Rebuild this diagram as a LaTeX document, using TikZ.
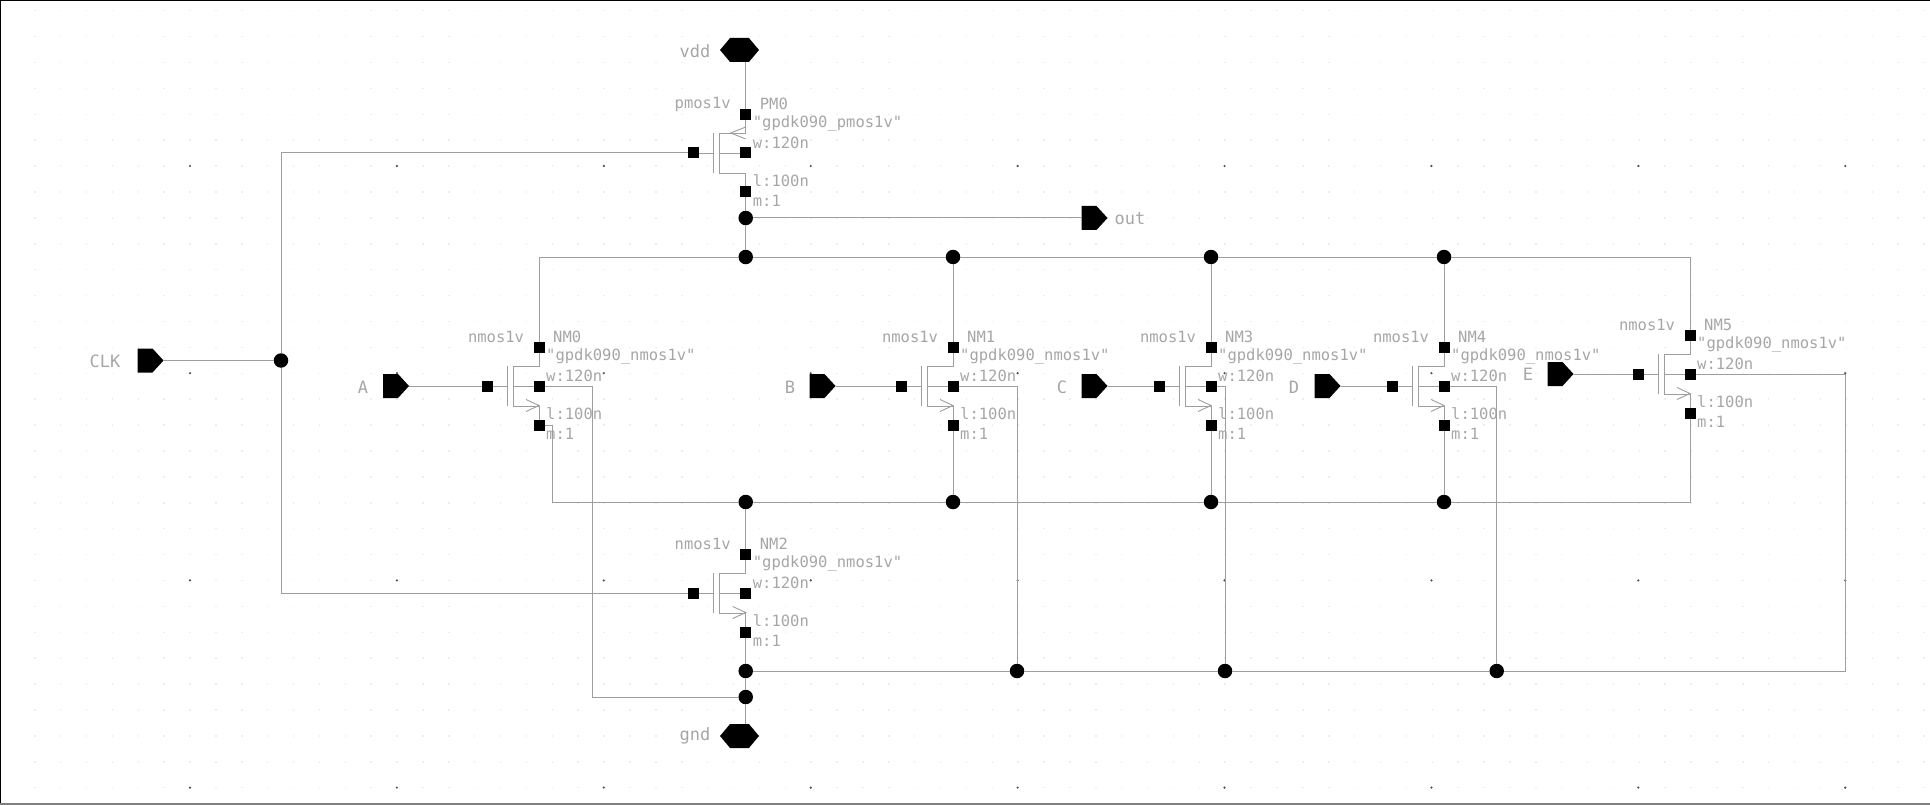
\documentclass[tikz,border=0pt]{standalone}
\usepackage{fontspec}
\setmonofont{DejaVu Sans Mono}
\usetikzlibrary{shapes.symbols}

\definecolor{wirecol}{gray}{0.62}
\definecolor{textcol}{gray}{0.65}

\tikzset{
    wire/.style={draw=wirecol,line width=1pt},
    symb/.style={draw=wirecol,line width=0.9pt},
    term/.style={fill=black,minimum size=11pt,inner sep=0pt,outer sep=0pt},
    junc/.style={circle,fill=black,minimum size=14.5pt,inner sep=0pt,outer sep=0pt},
    pinin/.style={signal,signal to=east,signal pointer angle=95,fill=black,minimum width=26pt,minimum height=24pt,inner sep=0pt,outer sep=0pt},
    pinio/.style={signal,signal to=east and west,signal pointer angle=100,fill=black,minimum width=39pt,minimum height=24pt,inner sep=0pt,outer sep=0pt},
    pinlab/.style={text=textcol,font=\ttfamily\fontsize{17}{18}\selectfont,inner sep=0pt},
    devlab/.style={text=textcol,font=\ttfamily\fontsize{15.5}{16}\selectfont,inner sep=0pt,anchor=west},
}

\newcommand{\arrown}{\draw[symb] (-13,13.5) -- (0,19.5) -- (-13,25.5);}
\newcommand{\arrowp}{\draw[symb] (0,-26) -- (-15,-20) -- (0,-14);}

% name, n or p, x, y
\newcommand{\mosfet}[4]{
    \begin{scope}[shift={(#3,#4)}]
        \node[term] (#1d) at (0,-38.5) {};
        \node[term] (#1g) at (-52,0) {};
        \node[term] (#1b) at (0,0) {};
        \node[term] (#1s) at (0,39) {};
        \draw[symb] (#1d) -- (0,-20) -- (-26,-20) -- (-26,20) -- (0,20) -- (#1s);
        \draw[symb] (-32,-20) -- (-32,20);
        \draw[symb] (#1g) -- (-32,0); \draw[symb] (-26,0) -- (#1b);
        \csname arrow#2\endcsname
        \node[devlab,anchor=center] (#1type) at (-43,-49) {#2mos1v};
        \node[devlab] (#1name) at (14,-49) {#1};
        \node[devlab] (#1model) at (7,-29.5) {"gpdk090\_#2mos1v"};
        \node[devlab] (#1w) at (7,-10) {w:120n};
        \node[devlab] (#1l) at (7,28) {l:100n};
        \node[devlab] (#1m) at (7,48) {m:1};
    \end{scope}
}

\begin{document}
\begin{tikzpicture}[x=1pt,y=-1pt]
    \useasboundingbox (0,0) rectangle (1930,805);

    % grid
    \foreach \row in {0,...,30}
        \draw[gray!14,line width=1.5pt,dash pattern=on 1.5pt off 24.38pt] (34,10.7+25.9*\row) -- (1925,10.7+25.9*\row);
    \foreach \col in {0,...,8}
        \foreach \row in {0,...,3}
            \fill[black!70] (190+206.9*\col,166+207.2*\row) circle (1.2pt);

    % frame
    \draw[black,line width=2pt] (0,805) -- (0,0) -- (1930,0);
    \draw[gray,line width=1.5pt] (0,804) -- (1930,804);

    % transistors
    \mosfet{PM0}{p}{745.7}{153}
    \mosfet{NM0}{n}{539}{386}
    \mosfet{NM1}{n}{953}{386}
    \mosfet{NM3}{n}{1211}{386}
    \mosfet{NM4}{n}{1444}{386}
    \mosfet{NM5}{n}{1690}{374}
    \mosfet{NM2}{n}{745.7}{593}

    % pins
    \node[pinio] (vdd) at (739.5,50) {};
    \node[pinio] (gnd) at (739.5,736) {};
    \node[pinin] (CLK) at (145,360.5) {};
    \node[pinin] (A) at (390.5,386) {};
    \node[pinin] (B) at (817,386) {};
    \node[pinin] (C) at (1089,386) {};
    \node[pinin] (D) at (1322,386) {};
    \node[pinin] (E) at (1555,374) {};
    \node[pinin] (out) at (1089,218) {};

    \node[pinlab] (vddlab) at (695,51) {vdd};
    \node[pinlab] (gndlab) at (695,736) {gnd};
    \node[pinlab] (CLKlab) at (105,361) {CLK};
    \node[pinlab] (Alab) at (363,387) {A};
    \node[pinlab] (Blab) at (790,387) {B};
    \node[pinlab] (Clab) at (1062,387) {C};
    \node[pinlab] (Dlab) at (1294,387) {D};
    \node[pinlab] (Elab) at (1528,374) {E};
    \node[pinlab] (outlab) at (1130,219) {out};

    % junctions
    \node[junc] (J) at (281,360.5) {};
    \node[junc] (Q) at (745.7,218) {};
    \node[junc] (T0) at (745.7,257) {};
    \node[junc] (T1) at (953,257) {};
    \node[junc] (T3) at (1211,257) {};
    \node[junc] (T4) at (1444,257) {};
    \node[junc] (B0) at (745.7,502) {};
    \node[junc] (B1) at (953,502) {};
    \node[junc] (B3) at (1211,502) {};
    \node[junc] (B4) at (1444,502) {};
    \node[junc] (G0) at (745.7,671) {};
    \node[junc] (Gb) at (745.7,697) {};
    \node[junc] (G1) at (1017,671) {};
    \node[junc] (G3) at (1225,671) {};
    \node[junc] (G4) at (1496.7,671) {};

    \coordinate (botleft) at (552,502);
    \coordinate (gndleft) at (592,697);
    \coordinate (gndright) at (1845,671);

    % clock and inputs
    \draw[wire] (CLK) -- (J);
    \draw[wire] (J) |- (PM0g); \draw[wire] (J) |- (NM2g);
    \draw[wire] (A) -- (NM0g); \draw[wire] (B) -- (NM1g); \draw[wire] (C) -- (NM3g);
    \draw[wire] (D) -- (NM4g); \draw[wire] (E) -- (NM5g);

    % pull up and output
    \draw[wire] (PM0d) -- (PM0d |- vdd.south);
    \draw[wire] (PM0s) -- (Q); \draw[wire] (Q) -- (T0); \draw[wire] (Q) -- (out);

    % top rail
    \draw[wire] (NM0d) |- (T0); \draw[wire] (T0) -- (T1); \draw[wire] (T1) -- (T3); \draw[wire] (T3) -- (T4);
    \draw[wire] (T4) -| (NM5d);
    \draw[wire] (T1) -- (NM1d); \draw[wire] (T3) -- (NM3d); \draw[wire] (T4) -- (NM4d);

    % bottom rail
    \draw[wire] (NM0s) -| (botleft) -- (B0); \draw[wire] (B0) -- (B1); \draw[wire] (B1) -- (B3); \draw[wire] (B3) -- (B4);
    \draw[wire] (B4) -| (NM5s);
    \draw[wire] (NM1s) -- (B1); \draw[wire] (NM3s) -- (B3); \draw[wire] (NM4s) -- (B4);
    \draw[wire] (B0) -- (NM2d);

    % ground
    \draw[wire] (NM2s) -- (G0); \draw[wire] (G0) -- (Gb); \draw[wire] (Gb) -- (Gb |- gnd.north);
    \draw[wire] (G0) -- (G1); \draw[wire] (G1) -- (G3); \draw[wire] (G3) -- (G4);
    \draw[wire] (G4) -- (gndright) |- (NM5b);
    \draw[wire] (NM0b) -| (gndleft) -- (Gb);
    \draw[wire] (NM1b) -| (G1); \draw[wire] (NM3b) -| (G3); \draw[wire] (NM4b) -| (G4);
\end{tikzpicture}
\end{document}
